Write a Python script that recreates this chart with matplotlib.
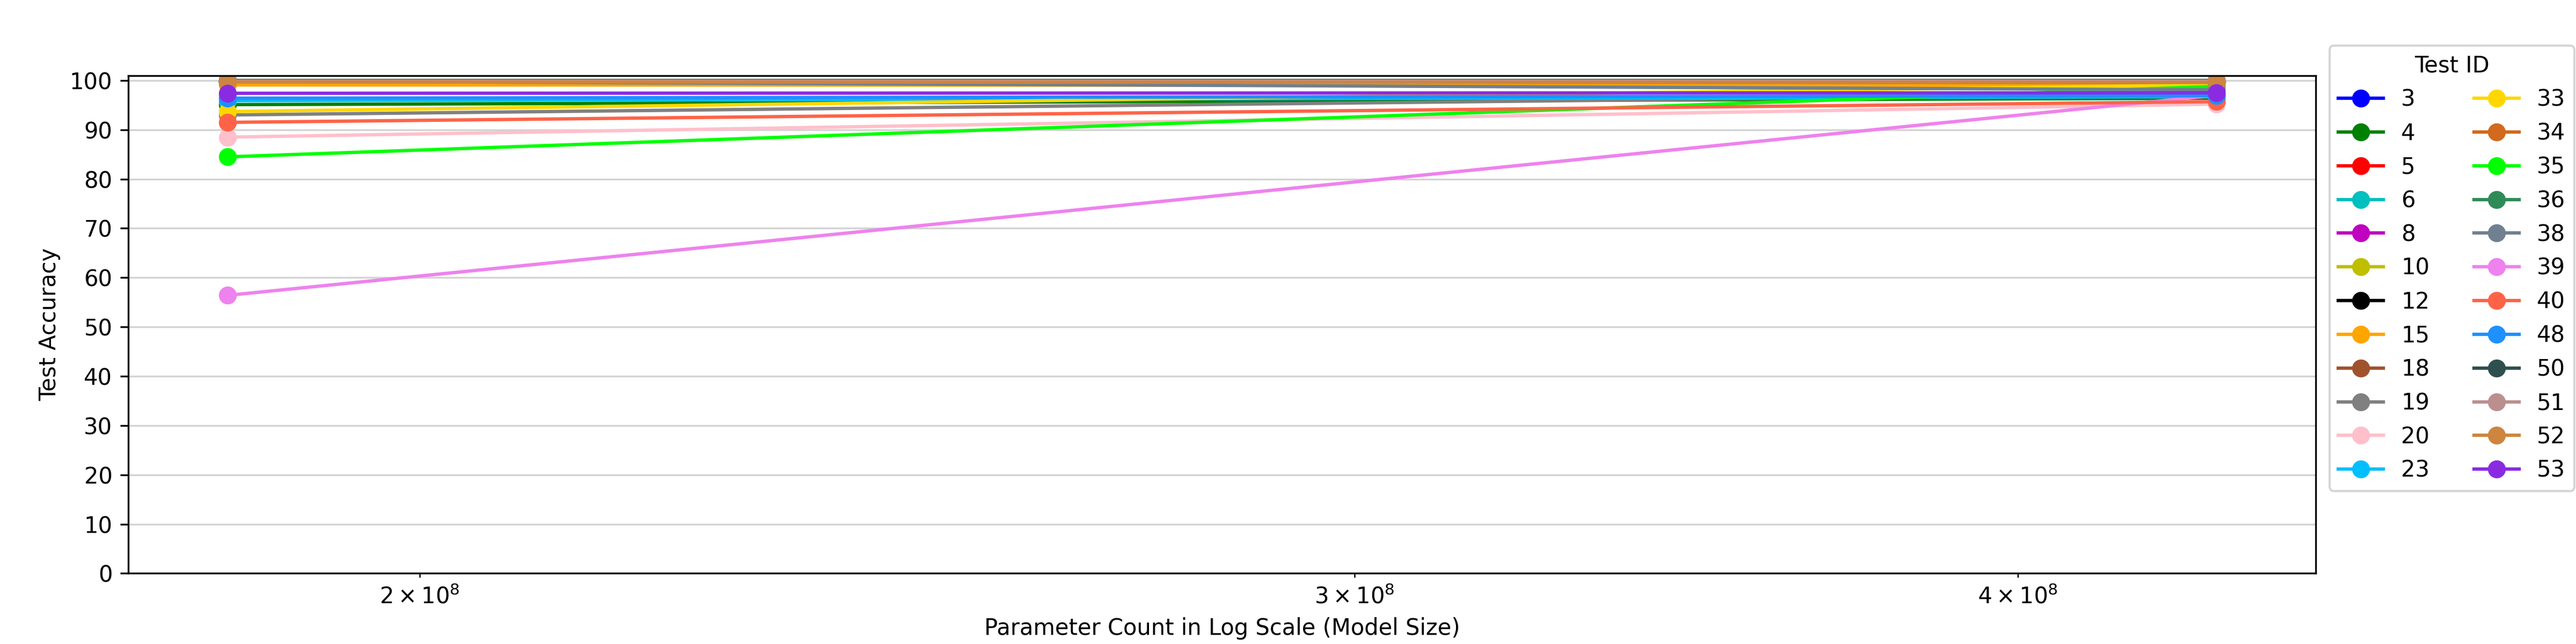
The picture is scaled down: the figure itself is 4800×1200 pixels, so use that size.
import matplotlib
matplotlib.use("Agg")
import matplotlib.pyplot as plt

# Data
param_counts = [1.84e8, 4.36e8]
test_ids = ["3", "4", "5", "6", "8", "10", "12", "15", "18", "19", "20", "23",
            "33", "34", "35", "36", "38", "39", "40", "48", "50", "51", "52", "53"]
colors = ["blue", "green", "red", "c", "m", "y", "black", "orange", "sienna", "gray",
          "pink", "deepskyblue", "gold", "chocolate", "lime", "seagreen", "slategray",
          "violet", "tomato", "dodgerblue", "darkslategray", "rosybrown", "peru", "blueviolet"]
acc_small = [99.8, 95.1, 99.8, 99.7, 99.8, 99.7, 99.9, 99.1, 99.8, 93.0, 88.5, 95.9,
             93.7, 99.8, 84.5, 99.9, 99.9, 56.4, 91.5, 96.4, 100.0, 99.9, 99.7, 97.4]
acc_large = [99.7, 96.4, 99.8, 99.6, 99.7, 99.7, 99.8, 99.0, 99.6, 97.3, 95.2, 96.7,
             99.1, 99.7, 98.8, 99.8, 98.1, 97.0, 95.7, 96.9, 100.0, 99.9, 99.6, 97.5]

fig = plt.figure(figsize=(16, 4), dpi=300)
ax = fig.add_axes([0.0497, 0.1097, 0.8493, 0.773])

for tid, col, a, b in zip(test_ids, colors, acc_small, acc_large):
    ax.plot(param_counts, [a, b], marker="o", color=col, label=tid,
            linewidth=1.5, markersize=7)

ax.set_xscale("log")
ax.set_ylim(0, 101)
ax.set_yticks(range(0, 101, 10))
ax.grid(axis="y", color="lightgray", linewidth=0.8)
ax.set_xlabel("Parameter Count in Log Scale (Model Size)")
ax.set_ylabel("Test Accuracy")

ax.legend(title="Test ID", ncol=2, loc="upper left",
          bbox_to_anchor=(0.9043, 0.929), bbox_transform=fig.transFigure,
          borderaxespad=0)

fig.savefig("out.png", dpi=300)
